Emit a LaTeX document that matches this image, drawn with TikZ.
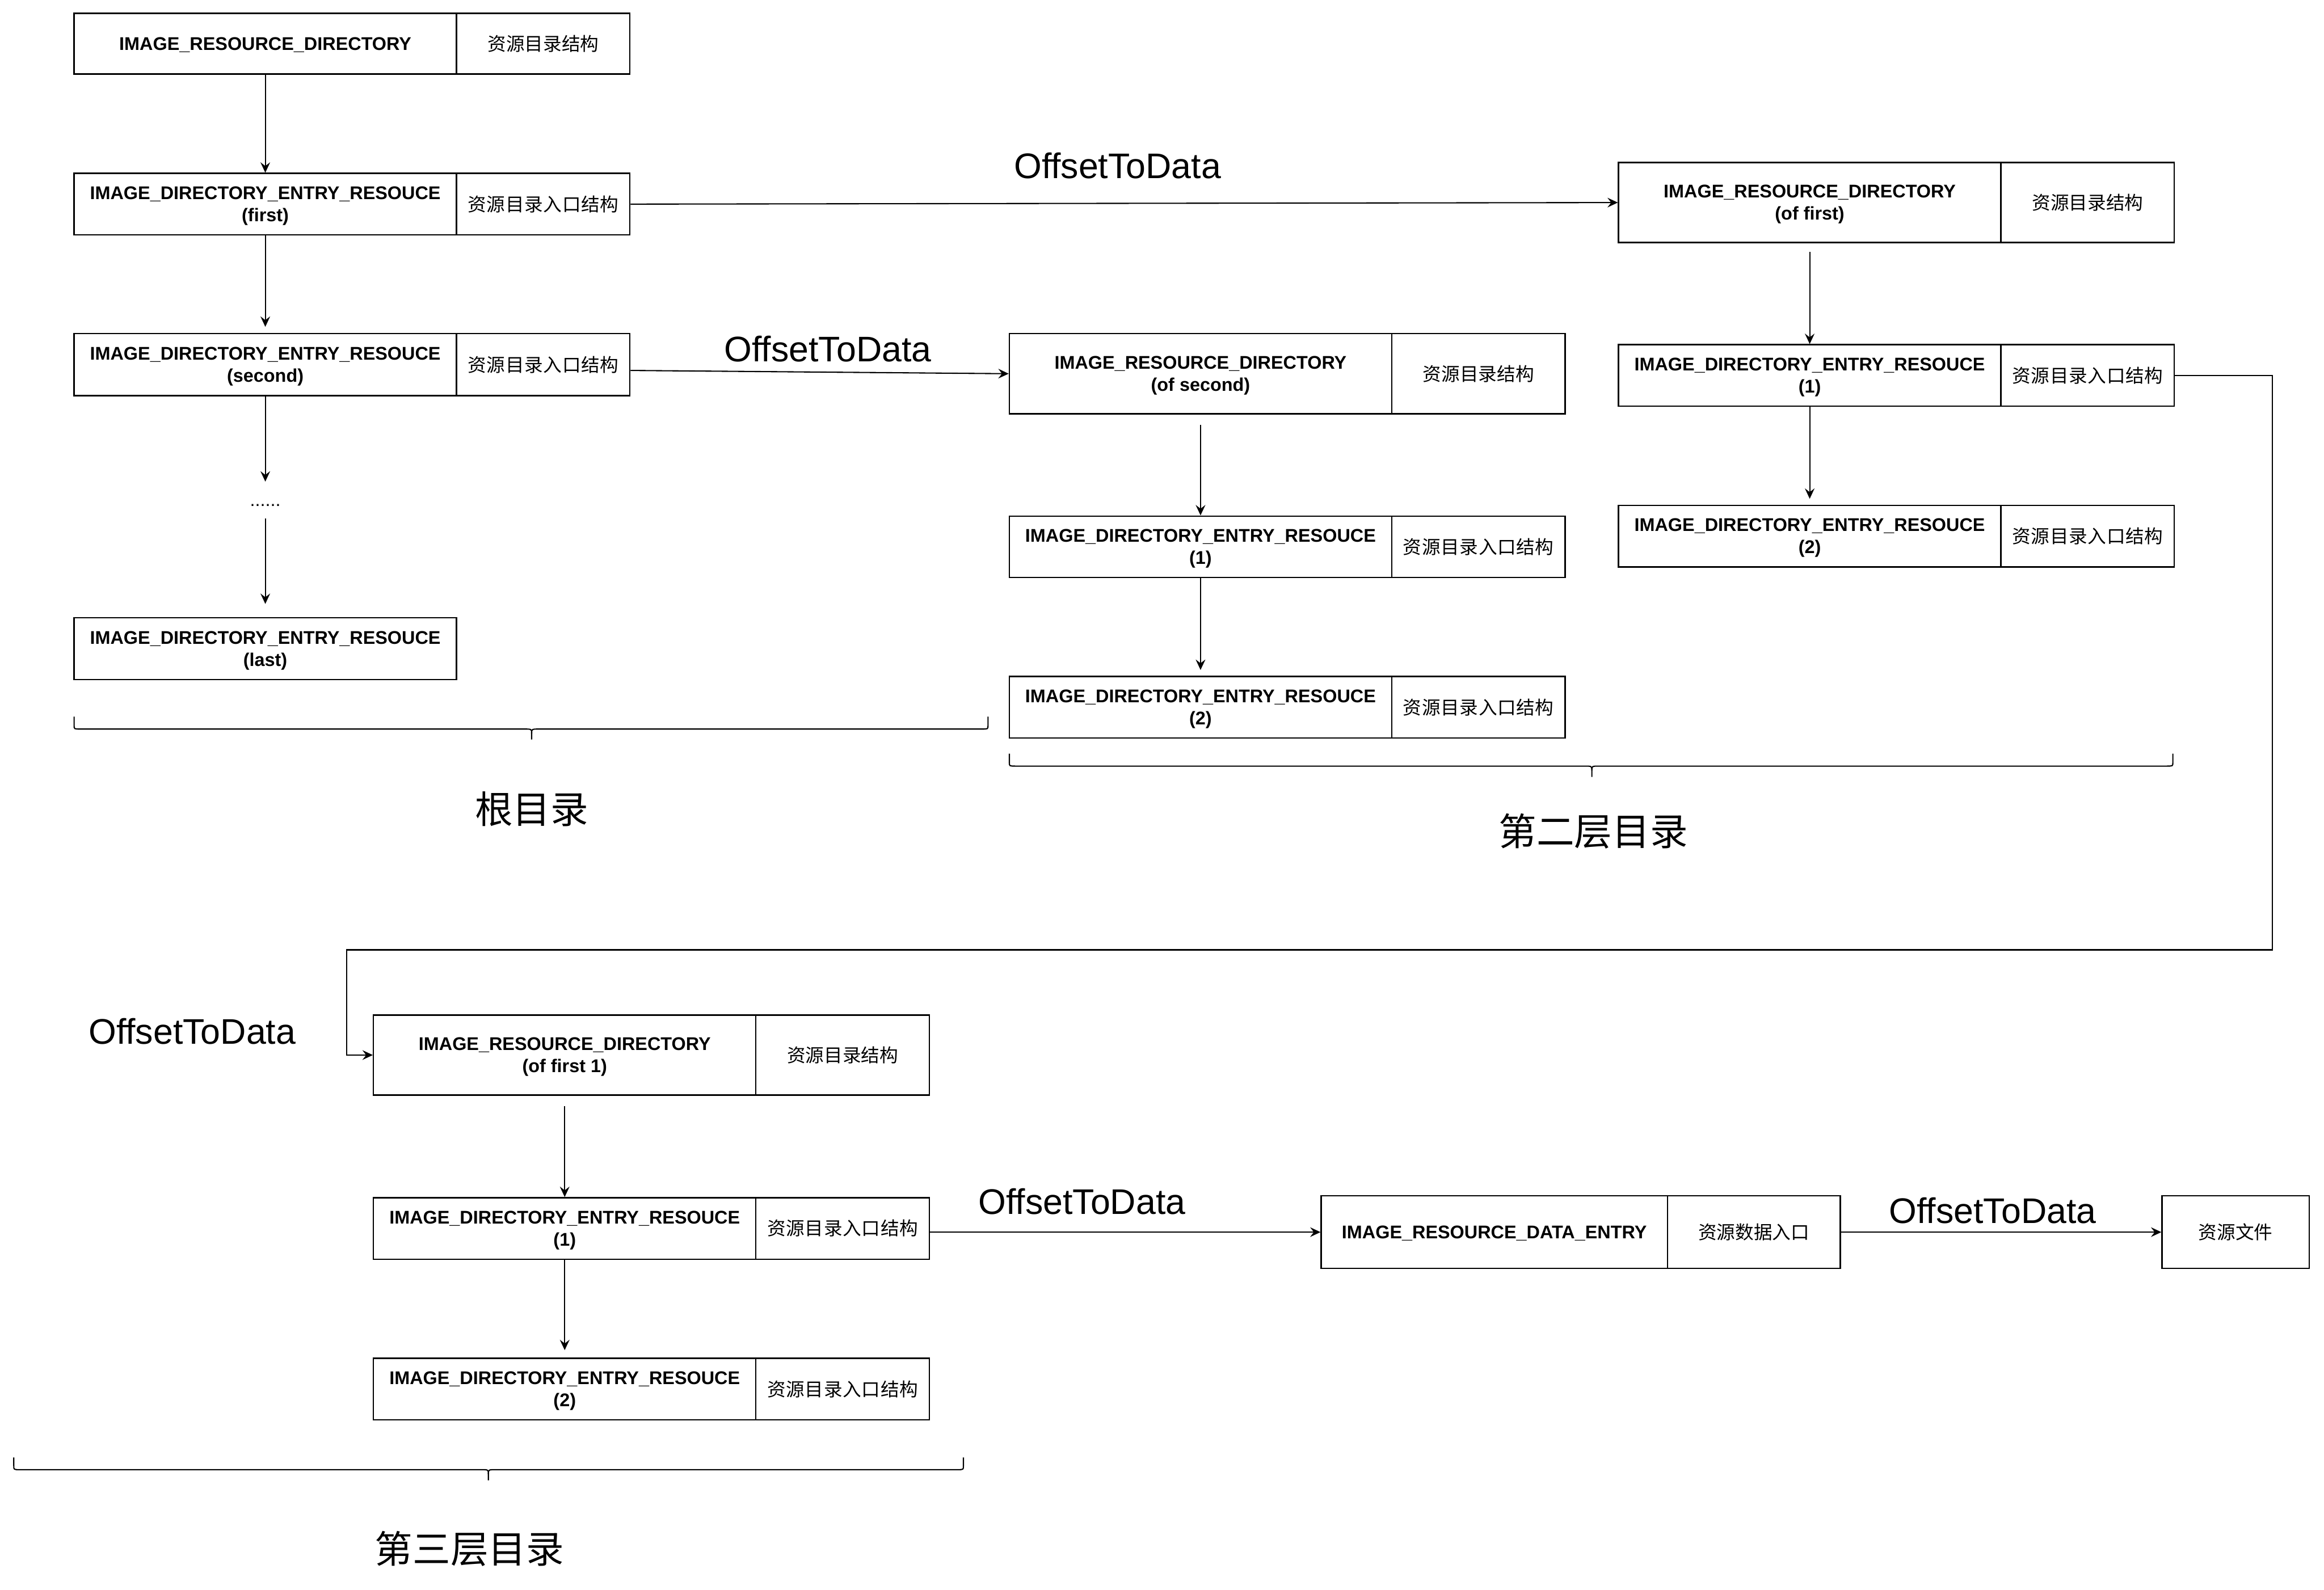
\documentclass[tikz,border=0pt]{standalone}
\usepackage{fontspec}
\setmainfont{Liberation Sans}
\newfontfamily\cjk{Noto Sans CJK SC}
\newfontfamily\cjkwide[LetterSpace=2]{Noto Sans CJK SC}
\usetikzlibrary{arrows.meta}
\newcommand\dirbrace[6]{%
  \draw[bracestyle] (#1,#4) -- (#1,#5-2.5) .. controls (#1,#5) .. (#1+4,#5) -- (#3-5,#5) .. controls (#3,#5) .. (#3,#5+3) -- (#3,#6);
  \draw[bracestyle] (#3,#5+3) .. controls (#3,#5) .. (#3+5,#5) -- (#2-4,#5) .. controls (#2,#5) .. (#2,#5-2.5) -- (#2,#4);
}
\begin{document}
\begin{tikzpicture}[x=1pt,y=-1pt,
  base/.style={draw, line width=0.9pt, inner sep=0pt, align=center},
  lcell/.style={base, minimum width=258pt, text depth=0pt, font=\bfseries\fontsize{12.4}{14.9}\selectfont},
  rcell/.style={base, minimum width=117pt, font=\cjk\fontsize{12.5}{15}\selectfont},
  ecell/.style={base, minimum width=117pt, font=\cjkwide\fontsize{12.5}{15}\selectfont},
  dirh/.style={minimum height=54pt},
  enth/.style={minimum height=41.5pt},
  arr/.style={-{Stealth[length=7pt,width=6.5pt,inset=2.5pt]}, line width=0.8pt},
  lbl/.style={font=\fontsize{24}{28}\selectfont},
  cjklbl/.style={font=\cjk\fontsize{25.5}{30}\selectfont},
  bracestyle/.style={line width=0.8pt},
]
\fill[white] (0,0) rectangle (1568,1073);
\useasboundingbox (0,0) rectangle (1568,1073);

% ---------- root directory ----------
\node[lcell, minimum height=41pt] (A) at (179,29.5) {IMAGE\_RESOURCE\_DIRECTORY};
\node[rcell, minimum height=41pt] (Ar) at (366.5,29.5) {资源目录结构};
\node[lcell, enth] (B) at (179,137.75) {IMAGE\_DIRECTORY\_ENTRY\_RESOUCE\\(first)};
\node[ecell, enth] (Br) at (366.5,137.75) {资源目录入口结构};
\node[lcell, minimum height=42pt] (C) at (179,246) {IMAGE\_DIRECTORY\_ENTRY\_RESOUCE\\(second)};
\node[ecell, minimum height=42pt] (Cr) at (366.5,246) {资源目录入口结构};
\node[font=\fontsize{12.4}{14.9}\selectfont, inner sep=0pt] (dots) at (179,341) {......};
\coordinate (d1) at (179,325);
\coordinate (d2) at (179,350);
\node[lcell, enth] (D) at (179,437.75) {IMAGE\_DIRECTORY\_ENTRY\_RESOUCE\\(last)};

\draw[arr] (A.south) -- (B.north);
\draw[arr, shorten >=4pt] (B.south) -- (C.north);
\draw[arr] (C.south) -- (d1);
\draw[arr, shorten >=9pt] (d2) -- (D.north);

% ---------- second level (of second) ----------
\node[lcell, dirh] (E) at (810,252.2) {IMAGE\_RESOURCE\_DIRECTORY\\(of second)};
\node[rcell, dirh] (Er) at (997.5,252.2) {资源目录结构};
\node[lcell, enth] (F) at (810,369) {IMAGE\_DIRECTORY\_ENTRY\_RESOUCE\\(1)};
\node[ecell, enth] (Fr) at (997.5,369) {资源目录入口结构};
\node[lcell, enth] (G) at (810,477.3) {IMAGE\_DIRECTORY\_ENTRY\_RESOUCE\\(2)};
\node[ecell, enth] (Gr) at (997.5,477.3) {资源目录入口结构};

\draw[arr, shorten <=7pt] (E.south) -- (F.north);
\draw[arr, shorten >=4pt] (F.south) -- (G.north);

% ---------- second level (of first) ----------
\node[lcell, dirh] (H) at (1221,136.7) {IMAGE\_RESOURCE\_DIRECTORY\\(of first)};
\node[rcell, dirh] (Hr) at (1408.5,136.7) {资源目录结构};
\node[lcell, enth] (I) at (1221,253.35) {IMAGE\_DIRECTORY\_ENTRY\_RESOUCE\\(1)};
\node[ecell, enth] (Ir) at (1408.5,253.35) {资源目录入口结构};
\node[lcell, enth] (J) at (1221,361.8) {IMAGE\_DIRECTORY\_ENTRY\_RESOUCE\\(2)};
\node[ecell, enth] (Jr) at (1408.5,361.8) {资源目录入口结构};

\draw[arr, shorten <=6pt] (H.south) -- (I.north);
\draw[arr, shorten >=4pt] (I.south) -- (J.north);

% ---------- third level ----------
\node[lcell, dirh] (K) at (381,712) {IMAGE\_RESOURCE\_DIRECTORY\\(of first 1)};
\node[rcell, dirh] (Kr) at (568.5,712) {资源目录结构};
\node[lcell, enth] (L) at (381,829) {IMAGE\_DIRECTORY\_ENTRY\_RESOUCE\\(1)};
\node[ecell, enth] (Lr) at (568.5,829) {资源目录入口结构};
\node[lcell, enth] (M) at (381,937.35) {IMAGE\_DIRECTORY\_ENTRY\_RESOUCE\\(2)};
\node[ecell, enth] (Mr) at (568.5,937.35) {资源目录入口结构};

\draw[arr, shorten <=7pt] (K.south) -- (L.north);
\draw[arr, shorten >=5pt] (L.south) -- (M.north);

% ---------- data entry and file ----------
\node[lcell, minimum width=233.6pt, minimum height=49pt] (N) at (1008.2,831.5) {IMAGE\_RESOURCE\_DATA\_ENTRY};
\node[rcell, minimum width=116.6pt, minimum height=49pt] (Nr) at (1183.3,831.5) {资源数据入口};
\node[rcell, minimum width=99.3pt, minimum height=49pt] (O) at (1508.35,831.5) {资源文件};

% ---------- OffsetToData connectors ----------
\draw[arr] (Br.east) -- (H.west);
\draw[arr] ([yshift=-4pt]Cr.east) -- (E.west);
\coordinate (bendR) at (1533,641);
\coordinate (bendL) at (234,641);
\draw[arr] (Ir.east) -| (bendR) -- (bendL) |- (K.west);
\draw[arr] (N.west -| Lr.east) -- (N.west);
\draw[arr] (Nr.east) -- (O.west);

\node[lbl] (o1) at (754,112) {OffsetToData};
\node[lbl] (o2) at (558.6,235.4) {OffsetToData};
\node[lbl] (o3) at (129.7,696) {OffsetToData};
\node[lbl] (o4) at (730,811) {OffsetToData};
\node[lbl] (o5) at (1344.5,817) {OffsetToData};

% ---------- braces and level labels ----------
\dirbrace{50}{666.6}{358.7}{483.6}{492}{499}
\dirbrace{681}{1466}{1074}{508.6}{517}{524.3}
\dirbrace{9.3}{650}{329.5}{983.6}{991.8}{999}

\node[cjklbl] (t1) at (358.8,546) {根目录};
\node[cjklbl] (t2) at (1075,561) {第二层目录};
\node[cjklbl] (t3) at (316.7,1045) {第三层目录};
\end{tikzpicture}
\end{document}
